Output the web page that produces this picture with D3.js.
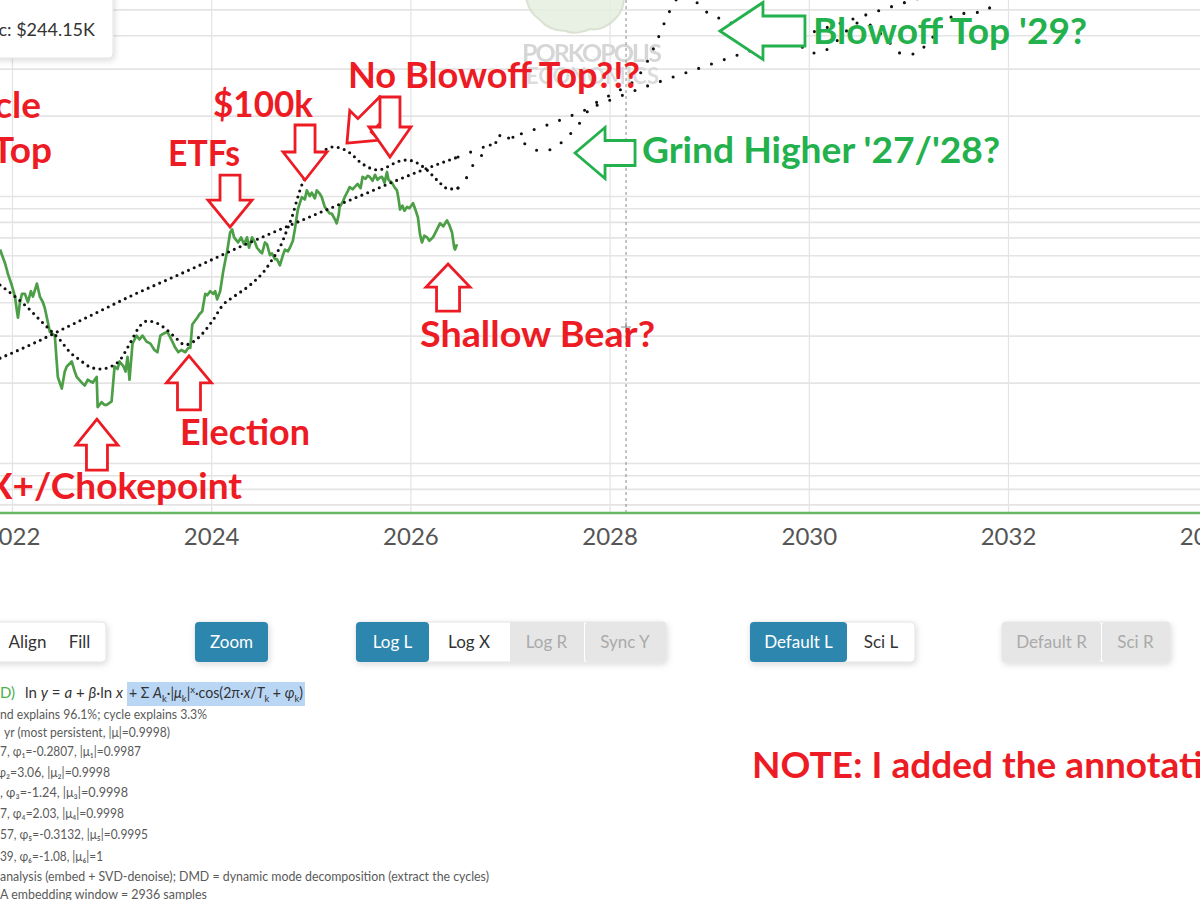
<!DOCTYPE html>
<html><head><meta charset="utf-8">
<script src="https://cdn.jsdelivr.net/npm/d3@7"></script>
<style>
html,body{margin:0;padding:0;background:#fff;overflow:hidden;}
svg{display:block;font-family:Lato,"Noto Sans",sans-serif;}
</style></head><body>
<svg id="chart" width="1200" height="900"></svg>
<script>
// ---------------- DATA ----------------
const tickYears  = [2022, 2024, 2026, 2028, 2030, 2032, 2034];
const tickLabels = ["2022", "2024", "2026", "2028", "2030", "2032", "2034"];
const gridPricesK = [7, 8, 9, 10, 20, 30, 40, 50, 60, 70, 80, 90, 100, 200, 300, 400, 500];

// BTC price, [decimal year, price in $K]
const btcPrice = [
 [2021.88,63],[2021.93,56],[2021.96,51],[2022.00,46],[2022.03,42],[2022.05,37],[2022.06,35],[2022.08,40],
 [2022.10,43],[2022.13,43],[2022.16,40],[2022.19,44],[2022.21,42],[2022.25,47],[2022.28,42],[2022.31,40],
 [2022.33,38],[2022.38,31],[2022.43,30],[2022.46,21],[2022.50,19],[2022.53,22],[2022.55,23],[2022.60,24],
 [2022.63,22],[2022.65,21],[2022.70,20],[2022.73,19.5],[2022.76,20.5],[2022.81,20],[2022.85,21],[2022.86,16.2],
 [2022.90,16.9],[2022.93,16.5],[2022.95,16.5],[2022.98,16.8],[2023.00,17],[2023.03,23],[2023.06,22.5],[2023.08,24],
 [2023.12,23],[2023.14,22],[2023.16,25],[2023.18,20.5],[2023.21,28],[2023.25,30],[2023.28,29],[2023.31,30],
 [2023.35,28.5],[2023.39,28],[2023.43,26.5],[2023.46,26],[2023.49,30],[2023.52,30.5],[2023.56,31],[2023.59,29.5],
 [2023.62,28],[2023.64,27],[2023.67,26],[2023.70,26.5],[2023.74,26],[2023.77,27],[2023.79,27],[2023.81,33],
 [2023.86,35],[2023.88,36],[2023.91,37],[2023.94,43],[2023.96,42.5],[2023.99,44],[2024.02,43],[2024.04,44],
 [2024.06,41],[2024.09,44],[2024.12,52],[2024.14,57],[2024.16,62],[2024.19,73],[2024.21,75],[2024.23,70],
 [2024.27,67],[2024.30,70],[2024.33,66],[2024.36,70],[2024.38,64],[2024.41,70],[2024.44,67],[2024.46,64],
 [2024.49,62],[2024.51,61],[2024.54,67],[2024.56,66],[2024.59,60],[2024.61,61],[2024.64,58],[2024.66,58],
 [2024.69,55],[2024.72,60],[2024.74,63],[2024.77,62],[2024.79,64],[2024.82,68],[2024.84,75],[2024.87,89],
 [2024.89,94],[2024.91,99],[2024.94,97],[2024.96,105],[2024.99,100],[2025.01,103],[2025.04,98],[2025.06,105],
 [2025.09,102],[2025.11,99],[2025.14,91],[2025.16,89],[2025.19,86],[2025.21,86],[2025.24,82],[2025.26,79],
 [2025.28,85],[2025.29,91],[2025.32,95],[2025.34,99],[2025.37,104],[2025.39,108],[2025.42,106],[2025.44,108],
 [2025.47,111],[2025.50,107],[2025.52,118],[2025.55,116],[2025.57,119],[2025.59,118],[2025.62,114],[2025.645,120],
 [2025.67,115],[2025.69,117],[2025.715,118],[2025.74,112],[2025.765,123],[2025.78,115],[2025.815,112],[2025.84,108],
 [2025.865,105],[2025.88,98],[2025.896,89],[2025.92,92],[2025.94,88],[2025.966,91],[2025.99,90],[2026.026,94],
 [2026.05,89],[2026.076,83],[2026.096,72],[2026.116,67],[2026.14,71],[2026.167,70],[2026.19,68],[2026.227,70],
 [2026.26,74],[2026.297,79],[2026.33,77],[2026.367,81],[2026.39,78],[2026.418,73],[2026.44,64],[2026.448,63],
 [2026.468,66]
];

// Power-law trend (dotted), fitted period and projection
const trendHistory = [
 [2021.880,24.7],[2022.211,28.0],[2022.552,32.3],[2022.884,37.1],[2023.215,42.6],[2023.556,48.5],
 [2023.888,55.1],[2024.219,62.8],[2024.560,71.4],[2024.892,80.6],[2025.223,90.9],[2025.564,102.6],
 [2025.896,115.8],[2026.227,129.5],[2026.478,140.0]
];
const trendForecast = [
 [2026.478,140.0],[2026.900,160.7],[2027.402,186.1],[2027.904,221.1],[2028.406,260.4],[2028.908,301.7],
 [2029.410,349.2],[2029.912,397.0],[2030.414,456.2],[2030.916,523.8],[2031.217,565.9]
];

// Trend + cycles model (dotted)
const cycleHistory = [
 [2021.880,46.4],[2022.010,42.6],[2022.151,38.4],[2022.281,34.3],[2022.382,31.5],[2022.482,28.9],
 [2022.582,26.0],[2022.683,24.3],[2022.783,22.9],[2022.884,22.5],[2022.984,22.9],[2023.084,24.3],
 [2023.185,28.1],[2023.285,32.6],[2023.355,34.0],[2023.456,33.4],[2023.556,31.5],[2023.657,29.1],
 [2023.737,27.7],[2023.817,28.4],[2023.918,30.7],[2024.018,34.3],[2024.118,39.1],[2024.219,41.8],
 [2024.390,46.4],[2024.540,52.8],[2024.610,57.6],[2024.691,64.4],[2024.761,74.6],[2024.811,83.4],
 [2024.861,96.6],[2024.892,105.3],[2024.942,117.8],[2024.992,128.4],[2025.062,140.0],[2025.143,148.7],
 [2025.223,152.6],[2025.293,151.3],[2025.394,144.9],[2025.494,134.1],[2025.594,127.3],[2025.675,125.1],
 [2025.765,128.4],[2025.865,134.1],[2025.966,136.4],[2026.066,133.0],[2026.167,125.1],[2026.267,114.8],
 [2026.388,106.2],[2026.478,107.2]
];
const cycleForecast = [
 [2026.478,107.2],[2026.568,117.8],[2026.629,130.7],[2026.729,143.7],[2026.819,157.9],[2026.920,169.2],
 [2026.990,167.8],[2027.050,164.9],[2027.171,155.2],[2027.301,147.5],[2027.432,150.0],[2027.532,160.7],
 [2027.633,175.2],[2027.723,192.6],[2027.803,213.6],[2027.954,232.8],[2028.104,249.5],[2028.255,272.0],
 [2028.355,306.9],[2028.466,374.1],[2028.576,468.1],[2028.667,542.2],[2028.807,571.0],[2028.908,510.5],
 [2029.078,468.1],[2029.209,444.6],[2029.329,440.9],[2029.460,452.4],[2029.600,452.4],[2029.721,425.8],
 [2029.861,383.9],[2030.032,343.2],[2030.173,352.2],[2030.313,390.6],[2030.484,444.6],[2030.614,437.0],
 [2030.715,407.8],[2030.815,374.1],[2030.916,343.2],[2031.066,340.3],[2031.167,364.5],[2031.347,437.0],
 [2031.448,472.2],[2031.588,484.6],[2031.739,488.8],[2031.849,519.2]
];

const cursorYear = 2028.165, cursorPriceK = 32.3;
const tooltipLabel = "c: $244.15K";

// annotation arrow tips in data space
const arrowYears  = [2024.189, 2024.942, 2025.363, 2025.795, 2022.853, 2023.777, 2026.378, 2027.653, 2029.108];
const arrowPrices = [76.5, 114.8, 157.9, 140.0, 14.6, 25.2, 55.6, 144.9, 415];

const formulaLeft = [["ln ",""],["y","i"],[" = ",""],["a","i"],[" + ",""],["β","i"],["·ln ",""],["x","i"]];
const formulaRight = [["+ Σ ",""],["A","i"],["k","sub"],["·|",""],["μ","i"],["k","sub"],["|",""],["x","sup"],
  ["·cos(2π·",""],["x","i"],["/",""],["T","i"],["k","sub"],[" + ",""],["φ","i"],["k","sub"],[")",""]];
const infoLines = [
 "nd explains 96.1%; cycle explains 3.3%",
 "yr (most persistent, |μ|=0.9998)",
 "7, φ₁=-0.2807, |μ₁|=0.9987",
 "φ₂=3.06, |μ₂|=0.9998",
 ", φ₃=-1.24, |μ₃|=0.9998",
 "7, φ₄=2.03, |μ₄|=0.9998",
 "57, φ₅=-0.3132, |μ₅|=0.9995",
 "39, φ₆=-1.08, |μ₆|=1",
 "analysis (embed + SVD-denoise); DMD = dynamic mode decomposition (extract the cycles)",
 "A embedding window = 2936 samples"
];

// ---------------- LAYOUT ----------------
const W = 1200, plotBottom = 513;
const RED = "#ed1c24", GREEN = "#22b14c";
const svg = d3.select("#chart");
const x = d3.scaleLinear().domain([2022, 2032]).range([12, 1008]);
const y = d3.scaleLog().domain([10, 100]).range([463, 196]);

const defs = svg.append("defs");
defs.append("clipPath").attr("id","plotClip").append("rect").attr("x",0).attr("y",0).attr("width",W).attr("height",plotBottom);
const sh = defs.append("filter").attr("id","shadow").attr("x","-20%").attr("y","-20%").attr("width","150%").attr("height","160%");
sh.append("feDropShadow").attr("dx",1).attr("dy",2).attr("stdDeviation",3).attr("flood-color","#000").attr("flood-opacity",0.15);

// gridlines
const vgrid = svg.append("g").attr("transform",`translate(0,${plotBottom})`)
  .call(d3.axisBottom(x).tickValues(tickYears).tickSize(-plotBottom).tickFormat(""));
vgrid.select(".domain").remove();
vgrid.selectAll("line").attr("stroke","#e3e3e3").attr("stroke-width",1.2);

const hgrid = svg.append("g").attr("clip-path","url(#plotClip)")
  .call(d3.axisLeft(y).tickValues(gridPricesK).tickSize(-W).tickFormat(""));
hgrid.select(".domain").remove();
hgrid.selectAll("line").attr("stroke","#e4e4e4").attr("stroke-width",1.6);

// watermark
const wm = svg.append("g").attr("opacity",0.85);
wm.append("path")
  .attr("d","M526,-4 C527,8 533,15 540,20 C546,27 556,31 566,31 C572,34 582,33 590,29 C600,31 610,25 616,18 C622,12 624,4 624,-4 Z")
  .attr("fill","#e6eee0").attr("stroke","#d3ddcc").attr("stroke-width",2);
wm.append("text").attr("x",522).attr("y",62).attr("font-size",25).attr("font-weight",700)
  .attr("fill","#cfcfcf").attr("letter-spacing",1).attr("textLength",141).text("PORKOPOLIS");
wm.append("text").attr("x",526).attr("y",84).attr("font-size",22).attr("font-weight",700)
  .attr("fill","#d6d6d6").attr("letter-spacing",1).attr("textLength",134).text("ECONOMICS");

// cursor dashed line
const cx = x(cursorYear);
svg.append("line").attr("x1",cx).attr("x2",cx).attr("y1",0).attr("y2",plotBottom)
  .attr("stroke","#8a8a8a").attr("stroke-width",1).attr("stroke-dasharray","3,3");

const plot = svg.append("g").attr("clip-path","url(#plotClip)");
const lineLin = d3.line().x(d=>x(d[0])).y(d=>y(d[1]));
const lineSmooth = d3.line().x(d=>x(d[0])).y(d=>y(d[1])).curve(d3.curveMonotoneX);

plot.append("path").datum(btcPrice).attr("d",lineLin).attr("fill","none")
  .attr("stroke","#4c9f46").attr("stroke-width",2.7).attr("stroke-linejoin","round");

[[trendHistory,"0,6.3"],[cycleHistory,"0,6.3"],[trendForecast,"0,13.5"],[cycleForecast,"0,13.5"]].forEach(([d,dash])=>{
  plot.append("path").datum(d).attr("d",lineSmooth).attr("fill","none")
    .attr("stroke","#111").attr("stroke-width",3.1).attr("stroke-linecap","round")
    .attr("stroke-dasharray",dash);
});

// x axis
const xa = svg.append("g").attr("transform",`translate(0,${plotBottom})`)
  .call(d3.axisBottom(x).tickValues(tickYears).tickFormat((d,i)=>tickLabels[i]).tickSize(0).tickPadding(15));
xa.select(".domain").remove();
xa.selectAll("text").attr("font-size",24).attr("fill","#555").attr("font-family","Lato");
svg.append("line").attr("x1",0).attr("x2",W).attr("y1",plotBottom).attr("y2",plotBottom)
  .attr("stroke","#66b866").attr("stroke-width",2.6);

// crosshair
const cy = y(cursorPriceK);
svg.append("path").attr("d",`M${cx-5},${cy}H${cx+5}M${cx},${cy-5}V${cy+5}`).attr("stroke","#888").attr("stroke-width",1);

// tooltip
svg.append("rect").attr("x",-10).attr("y",-10).attr("width",123).attr("height",68).attr("rx",4)
  .attr("fill","#fff").attr("stroke","#e2e2e2").attr("filter","url(#shadow)");
svg.append("text").attr("x",95).attr("y",36).attr("text-anchor","end").attr("font-size",18)
  .attr("fill","#333").text(tooltipLabel);

// ---------------- ANNOTATIONS ----------------
const arrowStyle = [
 {a:0,  len:52, sw:20, hw:44, hl:27, c:RED},
 {a:0,  len:55, sw:20, hw:44, hl:28, c:RED},
 {a:45, len:56, sw:19, hw:42, hl:25, c:RED},
 {a:0,  len:60, sw:20, hw:42, hl:30, c:RED},
 {a:180,len:51, sw:21, hw:42, hl:26, c:RED},
 {a:180,len:54, sw:23, hw:45, hl:27, c:RED},
 {a:180,len:47, sw:23, hw:44, hl:23, c:RED},
 {a:90, len:60, sw:25, hw:51, hl:30, c:GREEN},
 {a:90, len:85, sw:30, hw:57, hl:43, c:GREEN}
];
function arrowPath(s){
  return `M0,0L${s.hw/2},${-s.hl}L${s.sw/2},${-s.hl}L${s.sw/2},${-s.len}L${-s.sw/2},${-s.len}L${-s.sw/2},${-s.hl}L${-s.hw/2},${-s.hl}Z`;
}
arrowYears.forEach((yr,i)=>{
  const s = arrowStyle[i];
  svg.append("path").attr("d",arrowPath(s))
    .attr("transform",`translate(${x(yr)},${y(arrowPrices[i])}) rotate(${s.a})`)
    .attr("fill","#fff").attr("stroke",s.c).attr("stroke-width",2.8).attr("stroke-linejoin","miter");
});

const notes = [
 {t:"Cycle", x:41, y:118, anchor:"end", c:RED},
 {t:"Top", x:52, y:163, anchor:"end", c:RED},
 {t:"ETFs", x:168, y:166, w:72, c:RED},
 {t:"$100k", x:213, y:117, w:100, c:RED},
 {t:"No Blowoff Top?!?", x:348, y:88, w:292, c:RED},
 {t:"Shallow Bear?", x:420, y:347, w:235, c:RED},
 {t:"Election", x:180, y:445, w:130, c:RED},
 {t:"FTX+/Chokepoint", x:242, y:499, anchor:"end", c:RED},
 {t:"NOTE: I added the annotations", x:752, y:778, c:RED},
 {t:"Blowoff Top '29?", x:813, y:44, w:274, c:GREEN},
 {t:"Grind Higher '27/'28?", x:642, y:163, w:358, c:GREEN}
];
notes.forEach(n=>{
  const t = svg.append("text").attr("x",n.x).attr("y",n.y).attr("font-size",37).attr("font-weight",700)
    .attr("font-family","Lato").attr("fill",n.c).attr("text-anchor",n.anchor||"start").text(n.t);
  if(n.w) t.attr("textLength",n.w).attr("lengthAdjust","spacingAndGlyphs");
});

// ---------------- CONTROLS ----------------
const BLUE = "#2d86ae";
function btnGroup(btns){
  const x0 = btns[0].x0, x1 = btns[btns.length-1].x1;
  svg.append("rect").attr("x",x0).attr("y",622).attr("width",x1-x0).attr("height",40).attr("rx",4)
    .attr("fill","#fff").attr("stroke","#e2e2e2").attr("filter","url(#shadow)");
  btns.forEach((b,i)=>{
    if(b.bg!=="#fff"){
      svg.append("rect").attr("x",b.x0+(i>0?1:0)).attr("y",622).attr("width",b.x1-b.x0-(i>0?1:0)).attr("height",40)
        .attr("rx",i===0||i===btns.length-1?4:0).attr("fill",b.bg);
    }
    svg.append("text").attr("x",(b.x0+b.x1)/2 + (b.dx||0)).attr("y",648).attr("text-anchor","middle")
      .attr("font-size",17).attr("fill",b.fg).text(b.t);
  });
}
btnGroup([{t:"Align",x0:-40,x1:55,bg:"#fff",fg:"#333",dx:20},{t:"Fill",x0:55,x1:106,bg:"#fff",fg:"#333",dx:-1}]);
btnGroup([{t:"Zoom",x0:195,x1:268,bg:BLUE,fg:"#fff"}]);
btnGroup([{t:"Log L",x0:356,x1:429,bg:BLUE,fg:"#fff"},{t:"Log X",x0:429,x1:509,bg:"#fff",fg:"#333"},
          {t:"Log R",x0:509,x1:584,bg:"#e6e6e6",fg:"#aaa"},{t:"Sync Y",x0:584,x1:666,bg:"#e6e6e6",fg:"#aaa"}]);
btnGroup([{t:"Default L",x0:750,x1:847,bg:BLUE,fg:"#fff"},{t:"Sci L",x0:847,x1:915,bg:"#fff",fg:"#333"}]);
btnGroup([{t:"Default R",x0:1002,x1:1101,bg:"#e6e6e6",fg:"#aaa"},{t:"Sci R",x0:1101,x1:1170,bg:"#e6e6e6",fg:"#aaa"}]);

// formula
function rich(parent, parts){
  let shift = 0;
  parts.forEach(([s,st])=>{
    const sp = parent.append("tspan").text(s);
    let target = 0;
    if(st==="i") sp.attr("font-style","italic");
    if(st==="sub"){ target = 4; sp.attr("font-size",10); }
    if(st==="sup"){ target = -5; sp.attr("font-size",10); }
    sp.attr("dy", target - shift); shift = target;
  });
}
svg.append("text").attr("x",0).attr("y",698).attr("font-size",15).attr("fill","#4cae4c").text("D)");
svg.append("rect").attr("x",127).attr("y",682).attr("width",178).attr("height",24).attr("fill","#b9d6f5");
const f1 = svg.append("text").attr("x",25).attr("y",698).attr("font-size",15).attr("fill","#333")
  .attr("textLength",98).attr("lengthAdjust","spacingAndGlyphs");
rich(f1, formulaLeft);
const f2 = svg.append("text").attr("x",129).attr("y",698).attr("font-size",15).attr("fill","#333")
  .attr("textLength",174).attr("lengthAdjust","spacingAndGlyphs");
rich(f2, formulaRight);

const infoY  = [719, 737, 756, 777, 797, 818, 839, 861, 881, 899];
const infoX  = [0, 4, 0, -3, 0, 0, 0, 0, 0, 0];
const infoW  = [207, 166, 141, 113, 128, 124, 148, 103, 489, 207];
infoLines.forEach((s,i)=>{
  svg.append("text").attr("x",infoX[i]).attr("y",infoY[i]).attr("font-size",13.5).attr("fill","#5a5a5a")
    .attr("textLength",infoW[i]).attr("lengthAdjust","spacingAndGlyphs").text(s);
});
</script></body></html>
